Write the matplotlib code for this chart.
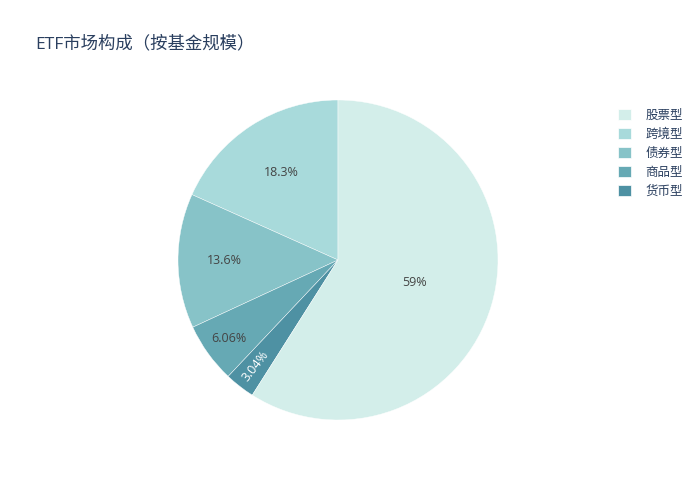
import matplotlib
matplotlib.use("Agg")
import matplotlib.pyplot as plt
import numpy as np
from matplotlib.patches import Patch

plt.rcParams['font.family'] = ['Open Sans', 'Noto Sans CJK SC', 'DejaVu Sans']

# Data (legend order)
categories = ['股票型', '跨境型', '债券型', '商品型', '货币型']
values = [59.0, 18.3, 13.6, 6.06, 3.04]
value_labels = ['59%', '18.3%', '13.6%', '6.06%', '3.04%']
colors = ['#d3eeea', '#a8dadb', '#87c3c8', '#66a9b4', '#4e91a3']
text_colors = ['#444444', '#444444', '#444444', '#444444', '#ffffff']
label_radius = [0.5, 0.65, 0.71, 0.84, 0.84]
rotate_label = [False, False, False, False, True]

# drawing order (counterclockwise from 12 o'clock)
draw_order = [1, 2, 3, 4, 0]

fig = plt.figure(figsize=(7, 5), dpi=100)
ax = fig.add_axes([(338 - 160) / 700, (500 - 260 - 160) / 500, 320 / 700, 320 / 500])

wedges, _ = ax.pie([values[i] for i in draw_order],
                   colors=[colors[i] for i in draw_order],
                   startangle=90, counterclock=True,
                   wedgeprops=dict(edgecolor='white', linewidth=0.3))
ax.set_xlim(-1, 1)
ax.set_ylim(-1, 1)
ax.set_aspect('equal')
ax.axis('off')

for w, idx in zip(wedges, draw_order):
    mid = np.deg2rad((w.theta1 + w.theta2) / 2)
    r = label_radius[idx]
    x, y = r * np.cos(mid), r * np.sin(mid)
    rot = 0
    if rotate_label[idx]:
        rot = np.rad2deg(mid) % 180
    ax.text(x, y, value_labels[idx], ha='center', va='center', fontsize=9,
            color=text_colors[idx], rotation=rot, rotation_mode='anchor')

handles = [Patch(facecolor=colors[i], edgecolor='white', linewidth=0.5) for i in range(len(categories))]
fig.legend(handles, categories, loc='upper left', bbox_to_anchor=(613 / 700, 1 - 104 / 500),
           frameon=False, fontsize=9, handlelength=1.0, handleheight=1.0,
           handletextpad=1.2, labelspacing=0.48, labelcolor='#2a3f5f', borderaxespad=0)

fig.text(35 / 700, 1 - 44 / 500, 'ETF市场构成（按基金规模）', fontsize=12.5,
         color='#2a3f5f', ha='left', va='center')

fig.savefig('out.png', dpi=100, facecolor='white')
